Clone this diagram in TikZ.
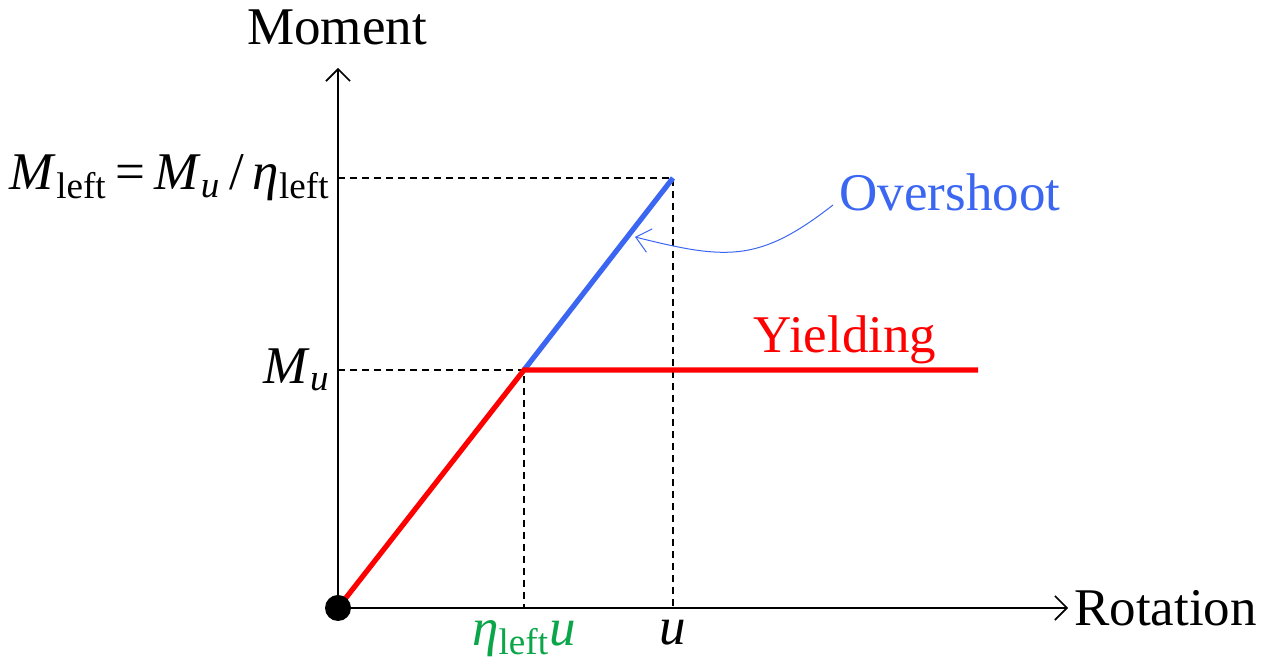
\documentclass[tikz,border=0pt]{standalone}
\usepackage{amsmath}
\usepackage{fontspec}
\setmainfont{Liberation Serif}
\usepackage{tikz}
\usetikzlibrary{positioning,arrows.meta,calc}
\definecolor{yieldred}{HTML}{FF0000}
\definecolor{overblue}{HTML}{3A66F2}
\definecolor{etagreen}{HTML}{0BA54A}
\newcommand{\sbt}[1]{$_{\text{#1}}$}
\tikzset{
    every node/.style={font=\fontsize{26.5}{31}\selectfont},
    axis/.style={draw,line width=1pt,-{Straight Barb[length=6pt,width=12pt,line width=0.8pt]}},
    guide/.style={draw,line width=0.8pt,dash pattern=on 3.5pt off 2.5pt},
    branch/.style={draw,line width=2.6pt},
    pointer/.style={draw,overblue,line width=0.5pt,-{Straight Barb[length=7pt,width=12pt,line width=0.5pt]}},
}

\begin{document}
\begin{tikzpicture}[x=0.5pt,y=0.5pt]
    \useasboundingbox (0,0) rectangle (1264,662);
    % curve points
    \coordinate (O) at (338,54);
    \coordinate (yb) at (524,292);
    \coordinate (ot) at (673,484);
    \coordinate (ye) at (978,292);
    \coordinate (xe) at (1068,54);
    \coordinate (ye2) at (338,594);
    \coordinate (hit) at (635,425);
    % axes
    \draw[axis] (O) -- (xe);
    \draw[axis] (O) -- (ye2);
    \node[anchor=south] (mom) at (337,610) {Moment};
    \node[anchor=west,inner sep=3pt] (rot) at (xe) {Rotation};
    % guide lines
    \draw[guide] (O |- ot) -- (ot) -- (ot |- O);
    \draw[guide] (O |- yb) -- (yb) -- (yb |- O);
    % labels
    \node[anchor=east,inner sep=4pt] (mtop) at (O |- ot) {\textit{M}\sbt{left}\,=\,\textit{M}\sbt{\itshape u}\,/\,\textit{η}\sbt{left}};
    \node[anchor=east,inner sep=4pt] (mu) at (O |- yb) {\textit{M}\sbt{\itshape u}};
    \node[anchor=north,etagreen,inner sep=6pt] (eu) at (yb |- O) {\textit{η}\sbt{left}\textit{u}};
    \node[anchor=north,inner sep=6pt] (uu) at (ot |- O) {\textit{u}};
    % branches
    \draw[branch,overblue] (yb) -- (ot);
    \draw[branch,yieldred] (O) -- (yb) -- (ye);
    \fill (O) circle (13);
    \node[yieldred] (yl) at (845,322) {Yielding};
    \node[overblue] (ov) at (950,470) {Overshoot};
    \draw[pointer] (833,457) to[out=218,in=-14,looseness=1.2] (hit);
\end{tikzpicture}
\end{document}
